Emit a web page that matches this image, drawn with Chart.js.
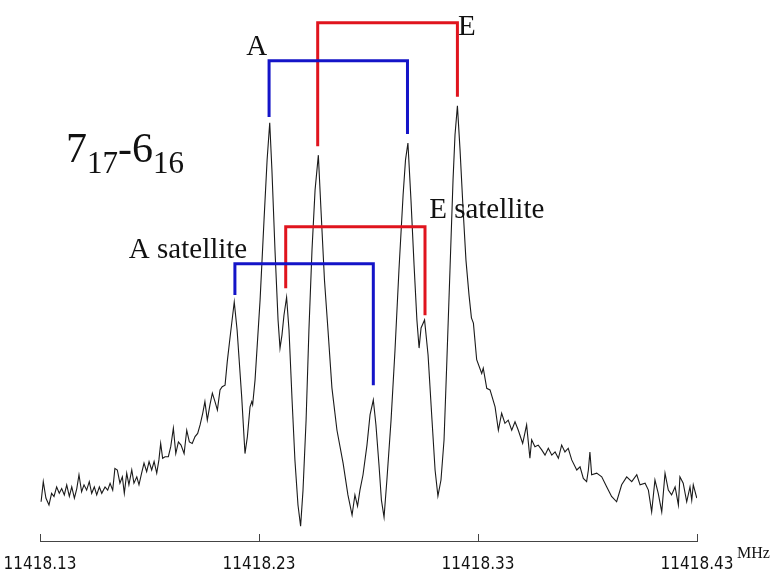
<!DOCTYPE html>
<html>
<head>
<meta charset="utf-8">
<script src="https://cdn.jsdelivr.net/npm/chart.js@4.4.1/dist/chart.umd.min.js"></script>
<style>
  html, body { margin: 0; padding: 0; background: #fff; }
  canvas { display: block; }
</style>
</head>
<body>
<canvas id="spectre" width="779" height="579"></canvas>
<script>
// frequency axis (MHz)
var tickValues = [11418.13, 11418.23, 11418.33, 11418.43];

// recorded spectrum, frequency in MHz and intensity (arb. units)
var specFreq = [
  11418.1305, 11418.1315, 11418.1327, 11418.1341, 11418.1353, 11418.1364, 11418.1376, 11418.1388, 11418.1399, 11418.1411,
  11418.1422, 11418.1434, 11418.1445, 11418.1457, 11418.1468, 11418.1478, 11418.1490, 11418.1501, 11418.1513, 11418.1525,
  11418.1536, 11418.1548, 11418.1559, 11418.1571, 11418.1582, 11418.1597, 11418.1609, 11418.1620, 11418.1632, 11418.1642,
  11418.1653, 11418.1665, 11418.1676, 11418.1685, 11418.1696, 11418.1706, 11418.1719, 11418.1729, 11418.1742, 11418.1752,
  11418.1764, 11418.1775, 11418.1787, 11418.1798, 11418.1810, 11418.1821, 11418.1833, 11418.1843, 11418.1851, 11418.1860,
  11418.1871, 11418.1886, 11418.1897, 11418.1909, 11418.1920, 11418.1932, 11418.1944, 11418.1958, 11418.1970, 11418.1982,
  11418.1995, 11418.2008, 11418.2020, 11418.2031, 11418.2043, 11418.2053, 11418.2064, 11418.2076, 11418.2087, 11418.2099,
  11418.2110, 11418.2122, 11418.2132, 11418.2145, 11418.2155, 11418.2168, 11418.2187, 11418.2200, 11418.2221, 11418.2236,
  11418.2247, 11418.2259, 11418.2267, 11418.2271, 11418.2282, 11418.2305, 11418.2323, 11418.2337, 11418.2349, 11418.2359,
  11418.2373, 11418.2387, 11418.2396, 11418.2405, 11418.2414, 11418.2426, 11418.2437, 11418.2451, 11418.2464, 11418.2478,
  11418.2490, 11418.2501, 11418.2515, 11418.2528, 11418.2542, 11418.2556, 11418.2571, 11418.2583, 11418.2599, 11418.2615,
  11418.2633, 11418.2656, 11418.2684, 11418.2706, 11418.2725, 11418.2738, 11418.2750, 11418.2761, 11418.2775, 11418.2793,
  11418.2807, 11418.2822, 11418.2834, 11418.2848, 11418.2859, 11418.2871, 11418.2884, 11418.2903, 11418.2921, 11418.2939,
  11418.2958, 11418.2969, 11418.2980, 11418.2994, 11418.3008, 11418.3021, 11418.3031, 11418.3040, 11418.3056, 11418.3072,
  11418.3090, 11418.3104, 11418.3117, 11418.3131, 11418.3145, 11418.3158, 11418.3172, 11418.3186, 11418.3195, 11418.3206,
  11418.3218, 11418.3232, 11418.3245, 11418.3259, 11418.3270, 11418.3279, 11418.3294, 11418.3317, 11418.3324, 11418.3340,
  11418.3355, 11418.3378, 11418.3393, 11418.3408, 11418.3423, 11418.3438, 11418.3454, 11418.3469, 11418.3484, 11418.3504,
  11418.3522, 11418.3537, 11418.3545, 11418.3560, 11418.3575, 11418.3591, 11418.3606, 11418.3621, 11418.3637, 11418.3652,
  11418.3667, 11418.3682, 11418.3697, 11418.3712, 11418.3728, 11418.3751, 11418.3766, 11418.3781, 11418.3796, 11418.3804,
  11418.3811, 11418.3819, 11418.3842, 11418.3865, 11418.3888, 11418.3910, 11418.3933, 11418.3956, 11418.3979, 11418.4002,
  11418.4025, 11418.4040, 11418.4063, 11418.4078, 11418.4093, 11418.4108, 11418.4123, 11418.4139, 11418.4154, 11418.4169,
  11418.4184, 11418.4200, 11418.4215, 11418.4222, 11418.4237, 11418.4253, 11418.4268, 11418.4276, 11418.4283, 11418.4299
];
var specInt = [
  7.4, 11.2, 8.1, 6.8, 9.0, 8.4, 10.2, 9.0, 9.9, 8.7,
  10.6, 8.4, 10.2, 8.1, 9.9, 12.5, 9.3, 10.6, 9.6, 11.2,
  9.0, 10.2, 8.7, 10.2, 9.0, 10.2, 9.6, 10.9, 9.6, 13.7,
  13.4, 10.9, 12.1, 9.0, 12.8, 10.6, 13.4, 10.9, 12.1, 10.6,
  12.8, 14.7, 13.1, 15.0, 13.4, 15.0, 12.8, 15.3, 18.4, 15.6,
  15.9, 15.9, 17.8, 21.3, 16.5, 18.7, 18.1, 16.5, 20.9, 18.7,
  18.4, 19.7, 20.3, 21.9, 24.1, 26.3, 22.8, 25.7, 27.9, 26.3,
  24.7, 28.5, 29.1, 29.4, 33.8, 38.5, 45.1, 39.8, 27.2, 16.5,
  19.7, 25.3, 26.3, 25.7, 30.4, 45.5, 60.6, 71.9, 78.9, 70.0,
  54.9, 41.7, 36.4, 38.9, 42.6, 46.0, 39.8, 26.6, 15.3, 6.8,
  2.8, 9.6, 22.8, 39.8, 54.9, 66.2, 72.8, 62.5, 49.2, 39.8,
  28.9, 20.9, 14.7, 8.7, 4.9, 8.7, 6.6, 9.6, 12.5, 18.1,
  23.8, 26.6, 21.9, 14.3, 7.7, 4.5, 11.5, 22.8, 36.0, 51.1,
  65.3, 71.9, 75.1, 64.3, 52.1, 41.7, 36.4, 40.2, 41.7, 35.1,
  22.8, 13.4, 8.5, 11.5, 19.1, 34.2, 51.1, 68.1, 76.6, 82.1,
  73.8, 62.5, 53.0, 46.4, 42.1, 41.1, 34.2, 31.6, 32.6, 28.8,
  28.5, 25.3, 20.9, 24.1, 22.2, 22.8, 20.9, 22.5, 20.9, 18.4,
  21.9, 15.6, 19.1, 17.8, 18.1, 17.2, 16.2, 17.5, 16.2, 16.8,
  15.6, 18.1, 16.8, 17.5, 15.3, 13.4, 14.0, 11.8, 11.2, 13.4,
  16.8, 12.5, 12.8, 12.1, 10.2, 8.4, 7.4, 10.6, 12.1, 11.2,
  12.5, 10.6, 10.9, 9.6, 5.5, 11.5, 9.0, 5.5, 12.8, 9.6,
  8.7, 10.2, 6.8, 12.1, 10.9, 7.4, 10.2, 7.7, 10.6, 8.1
];

// assignment brackets: pairs of lines joined above the peaks
var bracketNames = ['A', 'E', 'A satellite', 'E satellite'];
var bracketLow = [11418.2346, 11418.2568, 11418.2190, 11418.2422];
var bracketHigh = [11418.2978, 11418.3206, 11418.2822, 11418.3058];
var bracketLowEnd = [80.0, 74.5, 46.4, 47.7];
var bracketHighEnd = [76.8, 83.8, 29.4, 42.6];
var bracketTop = [90.6, 97.8, 52.3, 59.3];
var bracketColors = ['#1414c8', '#e0141e', '#1414c8', '#e0141e'];

var spectrumData = specFreq.map(function (f, i) { return {x: f, y: specInt[i]}; });

var datasets = [{
    label: 'spectre',
    data: spectrumData,
    borderColor: '#1a1a1a',
    borderWidth: 1.1,
    pointRadius: 0,
    tension: 0,
    order: 2
}];

bracketNames.forEach(function (nom, i) {
    datasets.push({
        label: nom,
        data: [
            {x: bracketLow[i], y: bracketLowEnd[i]},
            {x: bracketLow[i], y: bracketTop[i]},
            {x: bracketHigh[i], y: bracketTop[i]},
            {x: bracketHigh[i], y: bracketHighEnd[i]}
        ],
        borderColor: bracketColors[i],
        borderWidth: 3,
        borderCapStyle: 'butt',
        borderJoinStyle: 'miter',
        pointRadius: 0,
        tension: 0,
        order: 1
    });
});

// text placed in data coordinates
var etiquettes = [
    {text: 'A', x: 11418.2337, y: 91.7, align: 'right'},
    {text: 'E', x: 11418.3209, y: 95.5, align: 'left'},
    {text: 'A satellite', x: 11418.1976, y: 53.4, align: 'center'},
    {text: 'E satellite', x: 11418.3340, y: 60.9, align: 'center'}
];

var textPlugin = {
    id: 'textes',
    afterDatasetsDraw: function (chart) {
        var ctx = chart.ctx;
        var sx = chart.scales.x;
        var sy = chart.scales.y;
        ctx.save();
        ctx.fillStyle = '#111';
        ctx.textBaseline = 'alphabetic';
        ctx.font = '29px "Liberation Serif", "Times New Roman", serif';
        etiquettes.forEach(function (e) {
            ctx.textAlign = e.align;
            ctx.fillText(e.text, sx.getPixelForValue(e.x), sy.getPixelForValue(e.y));
        });

        // transition label 7(17)-6(16)
        var x0 = sx.getPixelForValue(11418.1419);
        var base = sy.getPixelForValue(71.5);
        var morceaux = [['7', 0], ['17', 1], ['-', 0], ['6', 0], ['16', 1]];
        ctx.textAlign = 'left';
        morceaux.forEach(function (m) {
            ctx.font = (m[1] ? '31px' : '42px') + ' "Liberation Serif", "Times New Roman", serif';
            ctx.fillText(m[0], x0, base + (m[1] ? 11 : 0));
            x0 += ctx.measureText(m[0]).width;
        });

        // short ticks pointing up from the axis line
        ctx.strokeStyle = '#444';
        ctx.lineWidth = 1;
        var yb = chart.chartArea.bottom;
        tickValues.forEach(function (v) {
            var px = Math.round(sx.getPixelForValue(v)) + 0.5;
            ctx.beginPath();
            ctx.moveTo(px, yb);
            ctx.lineTo(px, yb - 7);
            ctx.stroke();
        });

        // unit
        ctx.font = '16px "Liberation Serif", "Times New Roman", serif';
        ctx.fillText('MHz', sx.right + 40, yb + 17);
        ctx.restore();
    }
};

var ctx = document.getElementById('spectre').getContext('2d');

var chart = new Chart(ctx, {
    type: 'line',
    data: {datasets: datasets},
    options: {
        responsive: false,
        animation: false,
        layout: {
            padding: {left: 40, right: 82, top: 11, bottom: 1}
        },
        plugins: {
            legend: {display: false},
            tooltip: {enabled: false}
        },
        scales: {
            x: {
                type: 'linear',
                min: 11418.13,
                max: 11418.43,
                afterBuildTicks: function (scale) {
                    scale.ticks = tickValues.map(function (v) { return {value: v}; });
                },
                afterFit: function (scale) {
                    scale.paddingLeft = 0;
                    scale.paddingRight = 0;
                    scale.height = 37;
                },
                grid: {display: false, drawTicks: false},
                border: {display: true, color: '#444', width: 1},
                ticks: {
                    padding: 13,
                    maxRotation: 0,
                    color: '#111',
                    font: {family: '"DejaVu Sans Condensed", "Liberation Sans Narrow", sans-serif', size: 17},
                    callback: function (v) { return v.toFixed(2); }
                }
            },
            y: {
                display: false,
                min: 0,
                max: 100
            }
        }
    },
    plugins: [textPlugin]
});
</script>
</body>
</html>
